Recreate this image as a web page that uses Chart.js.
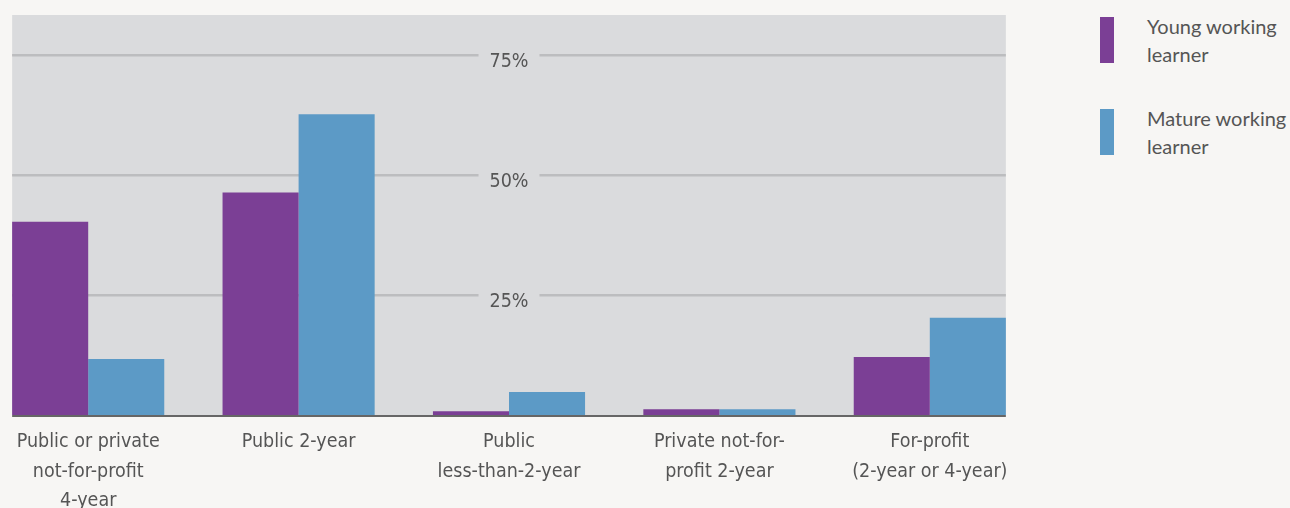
<!DOCTYPE html>
<html>
<head>
<meta charset="utf-8">
<script src="https://cdn.jsdelivr.net/npm/chart.js@4/dist/chart.umd.min.js"></script>
<style>
    html, body {
        margin: 0;
        padding: 0;
        width: 1290px;
        height: 508px;
        overflow: hidden;
        background: #f7f6f4;
    }

    #grafico {
        position: absolute;
        left: -17px;
        top: 0;
    }

    #legenda {
        position: absolute;
        left: 1100px;
        top: 0;
        font-family: Lato, "Noto Sans", sans-serif;
        font-size: 20px;
        line-height: 28px;
        color: #555;
    }

    .item {
        position: absolute;
        left: 0;
        width: 190px;
    }

    .cor {
        position: absolute;
        left: 0;
        width: 14px;
        height: 46px;
    }

    .texto {
        position: absolute;
        left: 47px;
        width: 200px;
        white-space: nowrap;
    }
</style>
</head>
<body>

<canvas id="grafico" width="1052" height="530"></canvas>
<div id="legenda"></div>

<script>
const categorias = [
    ["Public or private", "not-for-profit", "4-year"],
    ["Public 2-year"],
    ["Public", "less-than-2-year"],
    ["Private not-for-", "profit 2-year"],
    ["For-profit", "(2-year or 4-year)"]
];

const series = ["Young working learner", "Mature working learner"];

const jovens = [40.3, 46.4, 0.8, 1.2, 12.1];
const maduros = [11.7, 62.7, 4.8, 1.2, 20.3];

const ticksY = [25, 50, 75];

const cores = ["#7b3f95", "#5c9ac6"];

const fonteEixo = "'DejaVu Sans Condensed', 'Liberation Sans Narrow', 'Arial Narrow', sans-serif";

// fundo cinza, linhas de grade com rótulo no meio e linha de base
const fundoGrade = {
    id: "fundoGrade",
    beforeDatasetsDraw(chart) {
        const ctx = chart.ctx;
        const y = chart.scales.y;
        const primeiro = chart.getDatasetMeta(0).data[0];
        const ultimo = chart.getDatasetMeta(1).data[categorias.length - 1];
        const esq = primeiro.x - primeiro.width / 2;
        const dir = ultimo.x + ultimo.width / 2;
        const topo = chart.chartArea.top;
        const base = y.getPixelForValue(0);
        const meio = (esq + dir) / 2;

        ctx.save();
        ctx.fillStyle = "#dadbdd";
        ctx.fillRect(esq, topo, dir - esq, base - topo);

        ctx.font = "19.5px " + fonteEixo;
        ctx.fillStyle = "#555";
        ctx.textAlign = "center";
        ctx.textBaseline = "alphabetic";
        ctx.strokeStyle = "#bcbdbf";
        ctx.lineWidth = 2.5;

        ticksY.forEach(v => {
            const py = y.getPixelForValue(v);
            const txt = v + "%";
            const meia = ctx.measureText(txt).width / 2 + 11;
            ctx.beginPath();
            ctx.moveTo(esq, py);
            ctx.lineTo(meio - meia, py);
            ctx.moveTo(meio + meia, py);
            ctx.lineTo(dir, py);
            ctx.stroke();
            ctx.fillText(txt, meio, py + 11.5);
        });
        ctx.restore();
    },
    afterDatasetsDraw(chart) {
        const ctx = chart.ctx;
        const y = chart.scales.y;
        const primeiro = chart.getDatasetMeta(0).data[0];
        const ultimo = chart.getDatasetMeta(1).data[categorias.length - 1];
        const esq = primeiro.x - primeiro.width / 2;
        const dir = ultimo.x + ultimo.width / 2;
        const base = y.getPixelForValue(0);

        ctx.save();
        ctx.strokeStyle = "#666";
        ctx.lineWidth = 2;
        ctx.beginPath();
        ctx.moveTo(esq, base + 1);
        ctx.lineTo(dir, base + 1);
        ctx.stroke();
        ctx.restore();
    }
};

new Chart(document.getElementById("grafico"), {
    type: "bar",
    data: {
        labels: categorias,
        datasets: [
            {
                label: series[0],
                data: jovens,
                backgroundColor: cores[0]
            },
            {
                label: series[1],
                data: maduros,
                backgroundColor: cores[1]
            }
        ]
    },
    options: {
        responsive: false,
        animation: false,
        devicePixelRatio: 1,
        layout: {
            padding: { top: 15, left: 0, right: 0, bottom: 10 }
        },
        datasets: {
            bar: {
                categoryPercentage: 0.723,
                barPercentage: 1
            }
        },
        plugins: {
            legend: { display: false },
            tooltip: { enabled: false }
        },
        scales: {
            x: {
                grid: { display: false },
                border: { display: false },
                ticks: {
                    color: "#555",
                    padding: 4,
                    font: { family: fonteEixo, size: 19.5, lineHeight: 1.52 }
                }
            },
            y: {
                display: false,
                min: 0,
                max: 83.4
            }
        }
    },
    plugins: [fundoGrade]
});

// legenda em HTML
const legenda = document.getElementById("legenda");
const topos = [16.7, 109];
series.forEach((nome, i) => {
    const partes = nome.split(" ");
    legenda.innerHTML += `
        <div class="item" style="top:${topos[i]}px">
            <div class="cor" style="background:${cores[i]}"></div>
            <div class="texto" style="top:-5px">${partes[0]} ${partes[1]}<br>${partes[2]}</div>
        </div>
    `;
});
</script>

</body>
</html>
